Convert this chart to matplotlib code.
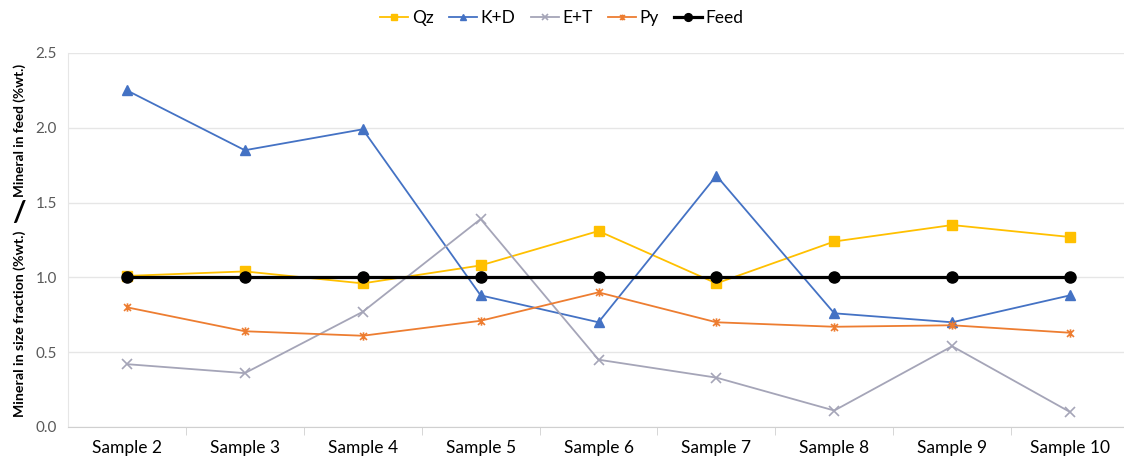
import matplotlib
matplotlib.use("Agg")
import matplotlib.pyplot as plt
from matplotlib.path import Path

plt.rcParams['font.family'] = ['Lato', 'DejaVu Sans']

samples = ['Sample 2', 'Sample 3', 'Sample 4', 'Sample 5', 'Sample 6',
           'Sample 7', 'Sample 8', 'Sample 9', 'Sample 10']
qz = [1.01, 1.04, 0.96, 1.08, 1.31, 0.96, 1.24, 1.35, 1.27]
kd = [2.25, 1.85, 1.99, 0.88, 0.70, 1.68, 0.76, 0.70, 0.88]
et = [0.42, 0.36, 0.77, 1.39, 0.45, 0.33, 0.11, 0.54, 0.10]
py = [0.80, 0.64, 0.61, 0.71, 0.90, 0.70, 0.67, 0.68, 0.63]
feed = [1.0, 1.0, 1.0, 1.0, 1.0, 1.0, 1.0, 1.0, 1.0]

# x with a vertical bar through it
star = Path([(-1, -1), (1, 1), (-1, 1), (1, -1), (0, -1.2), (0, 1.2)],
            [Path.MOVETO, Path.LINETO, Path.MOVETO, Path.LINETO,
             Path.MOVETO, Path.LINETO])

fig = plt.figure(figsize=(11.24, 4.62), dpi=100)
ax = fig.add_axes([68 / 1124, 1 - 427 / 462, 1061 / 1124, 374 / 462])

x = range(len(samples))
ax.plot(x, qz, color='#FFC000', lw=1.3, marker='s', ms=6.5, label='Qz')
ax.plot(x, kd, color='#4472C4', lw=1.3, marker='^', ms=7, label='K+D')
ax.plot(x, et, color='#A5A5B8', lw=1.3, marker='x', ms=7, mew=1.2, label='E+T')
ax.plot(x, py, color='#ED7D31', lw=1.3, marker=star, ms=6, mew=1.2, label='Py')
ax.plot(x, feed, color='black', lw=2.3, marker='o', ms=8, label='Feed', zorder=5)

ax.set_xlim(-0.5, len(samples) - 0.5)
ax.set_ylim(0, 2.5)
ax.set_yticks([0, 0.5, 1.0, 1.5, 2.0, 2.5])
ax.set_yticklabels(['0.0', '0.5', '1.0', '1.5', '2.0', '2.5'])
ax.set_xticks(list(x))
ax.set_xticklabels(samples)
ax.set_xticks([i - 0.5 for i in range(1, len(samples))], minor=True)
ax.tick_params(axis='x', which='major', length=0, pad=9, labelsize=12.5, colors='black')
ax.tick_params(axis='x', which='minor', length=6, color='#D0D0D0')
ax.tick_params(axis='y', length=0, pad=8, labelsize=11, labelcolor='#595959')
ax.grid(axis='y', color='#E6E6E6', lw=1)
ax.set_axisbelow(True)
for side in ['top', 'right']:
    ax.spines[side].set_visible(False)
ax.spines['bottom'].set_color('#D0D0D0')
ax.spines['left'].set_color('#E6E6E6')

# two-part y label with a tall slash between the parts
fig.text(20 / 1124, 1 - 324 / 462, 'Mineral in size fraction (%wt.)', rotation=90,
         ha='center', va='center', fontsize=10.2, fontweight='bold')
fig.text(19 / 1124, 1 - 213 / 462, '/', rotation=0, ha='center', va='center',
         fontsize=21, fontweight='bold')
fig.text(20 / 1124, 1 - 130 / 462, 'Mineral in feed (%wt.)', rotation=90,
         ha='center', va='center', fontsize=9.8, fontweight='bold')

fig.legend(loc='center', bbox_to_anchor=(0.5, 1 - 18 / 462), ncol=5, frameon=False,
           fontsize=12.5, handlelength=1.6, handletextpad=0.2, columnspacing=0.9,
           markerscale=0.7)

fig.savefig('out.png', dpi=100)
